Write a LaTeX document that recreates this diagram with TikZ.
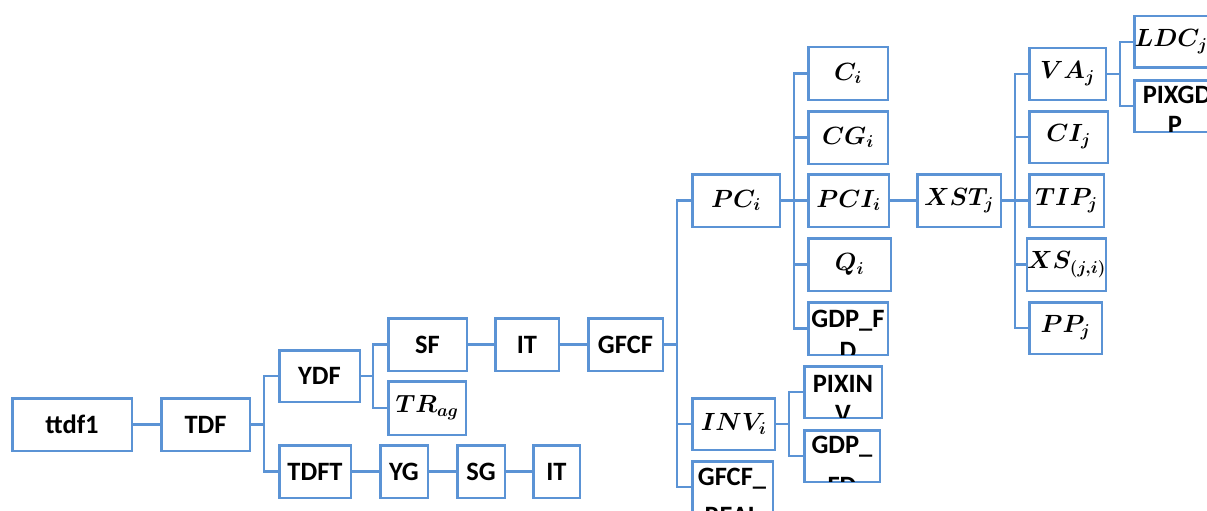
\documentclass[tikz,border=0pt]{standalone}
\usepackage{fontspec}
\setmainfont{Carlito}
\usepackage{bm}
\usetikzlibrary{calc}
\definecolor{linkblue}{HTML}{5B93D5}

% box from corner coordinates: [opts]{name}{x1}{y1}{x2}{y2}{text}
\newcommand{\bx}[7][]{%
  \node[box,#1,minimum width={(#5-#3-2.5)*1pt},minimum height={(#6-#4-2.5)*1pt}]
    (#2) at ({(#3+#5)/2},{(#4+#6)/2}) {#7};}
% text line clipped to the inside of a box: {name}{x}{baseline y}{text}
\newcommand{\cliptext}[4]{%
  \begin{scope}
    \clip ([xshift=1.2pt,yshift=1.2pt]#1.south west) rectangle ([xshift=-1.2pt,yshift=-1.2pt]#1.north east);
    \node[lbl,anchor=base] at (#2,#3) {#4};
  \end{scope}}
\newcommand{\mv}[1]{{\fontsize{26}{30}\selectfont$\bm{#1}$}}

\begin{document}
\begin{tikzpicture}[x=1pt,y=-1pt,
  box/.style={draw=linkblue,line width=2.5pt,inner sep=0pt,
    font=\fontsize{26.5}{32}\selectfont\bfseries},
  lbl/.style={inner sep=0pt,font=\fontsize{26.5}{32}\selectfont\bfseries},
  conn/.style={draw=linkblue,line width=2.5pt}]
\useasboundingbox (0,0) rectangle (1207,511);
\clip (0,0) rectangle (1207,511);

% left part of the tree
\bx{ttdf}{11}{397}{133}{452}{ttdf1}
\bx{tdf}{160}{397}{251}{452}{TDF}
\bx{ydf}{278}{349}{361}{403}{YDF}
\bx{tdft}{278}{444}{352}{499}{TDFT}
\bx{sf}{387}{317}{468}{372}{SF}
\bx{trag}{387}{380}{467}{436}{\mv{TR_{ag}}}
\bx{ita}{494}{317}{560}{372}{IT}
\bx{gfcf}{587}{317}{664}{372}{GFCF}
\bx{yg}{379}{444}{429}{499}{YG}
\bx{sg}{456}{444}{506}{499}{SG}
\bx{itb}{532}{444}{581}{499}{IT}

% GFCF branches
\bx{pc}{691}{173}{781}{228}{\mv{PC_i}}
\bx{inv}{691}{397}{776}{451}{\mv{INV_i}}
\bx{gfcfr}{691}{460}{774}{514}{}
\bx{c}{807}{46}{889}{101}{\mv{C_i}}
\bx{cg}{807}{110}{889}{165}{\mv{CG_i}}
\bx{pci}{807}{173}{890}{228}{\mv{PCI_i}}
\bx{q}{807}{237}{892}{292}{\mv{Q_i}}
\bx{gdpa}{807}{301}{889}{356}{}
\bx{pixinv}{803}{365}{883}{419}{}
\bx{gdpb}{803}{429}{881}{483}{}

% XST branches
\bx{xst}{916}{173}{1002}{228}{\mv{XST_j}}
\bx{va}{1028}{47}{1107}{101}{\mv{VA_j}}
\bx{ci}{1028}{110}{1109}{164}{\mv{CI_j}}
\bx{tip}{1028}{173}{1105}{228}{\mv{TIP_j}}
\bx{xs}{1028}{237}{1105}{292}{\mv{XS_{(j,i)}}}
\bx{pp}{1028}{301}{1103}{355}{\mv{PP_j}}
\bx{ldc}{1133}{15}{1209}{69}{\mv{LDC_j}}
\bx{pixgdp}{1133}{79}{1211}{133}{}

% wrapped labels cut by their boxes
\cliptext{gdpa}{848}{327}{GDP\_F}
\cliptext{gdpa}{848}{359}{D}
\cliptext{pixinv}{843}{392}{PIXIN}
\cliptext{pixinv}{843}{422}{V}
\cliptext{gdpb}{842}{453}{GDP\_}
\cliptext{gdpb}{842}{494}{FD}
\cliptext{gfcfr}{732}{485}{GFCF\_}
\cliptext{gfcfr}{732}{524}{REAL}
\cliptext{pixgdp}{1177}{103}{PIXGD}
\cliptext{pixgdp}{1175}{133}{P}

% connectors
\draw[conn] (ttdf) -- (tdf);
\draw[conn] (tdf.east) -- ++(13,0) |- (ydf.west);
\draw[conn] (tdf.east) -- ++(13,0) |- (tdft.west);
\draw[conn] (ydf.east) -- ++(12,0) |- (sf.west);
\draw[conn] (ydf.east) -- ++(12,0) |- (trag.west);
\draw[conn] (sf) -- (ita);
\draw[conn] (ita) -- (gfcf);
\draw[conn] (tdft) -- (yg);
\draw[conn] (yg) -- (sg);
\draw[conn] (sg) -- (itb);
\draw[conn] (gfcf.east) -- ++(13,0) |- (pc.west);
\draw[conn] (gfcf.east) -- ++(13,0) |- (inv.west);
\draw[conn] (gfcf.east) -- ++(13,0) |- (gfcfr.west);
\foreach \t in {c,cg,pci,q,gdpa}
  \draw[conn] (pc.east) -- ++(13,0) |- (\t.west);
\draw[conn] (inv.east) -- ++(13,0) |- (pixinv.west);
\draw[conn] (inv.east) -- ++(13,0) |- (gdpb.west);
\draw[conn] (pci) -- (xst);
\foreach \t in {va,ci,tip,xs,pp}
  \draw[conn] (xst.east) -- ++(13,0) |- (\t.west);
\draw[conn] (va.east) -- ++(13,0) |- (ldc.west);
\draw[conn] (va.east) -- ++(13,0) |- (pixgdp.west);
\end{tikzpicture}
\end{document}
